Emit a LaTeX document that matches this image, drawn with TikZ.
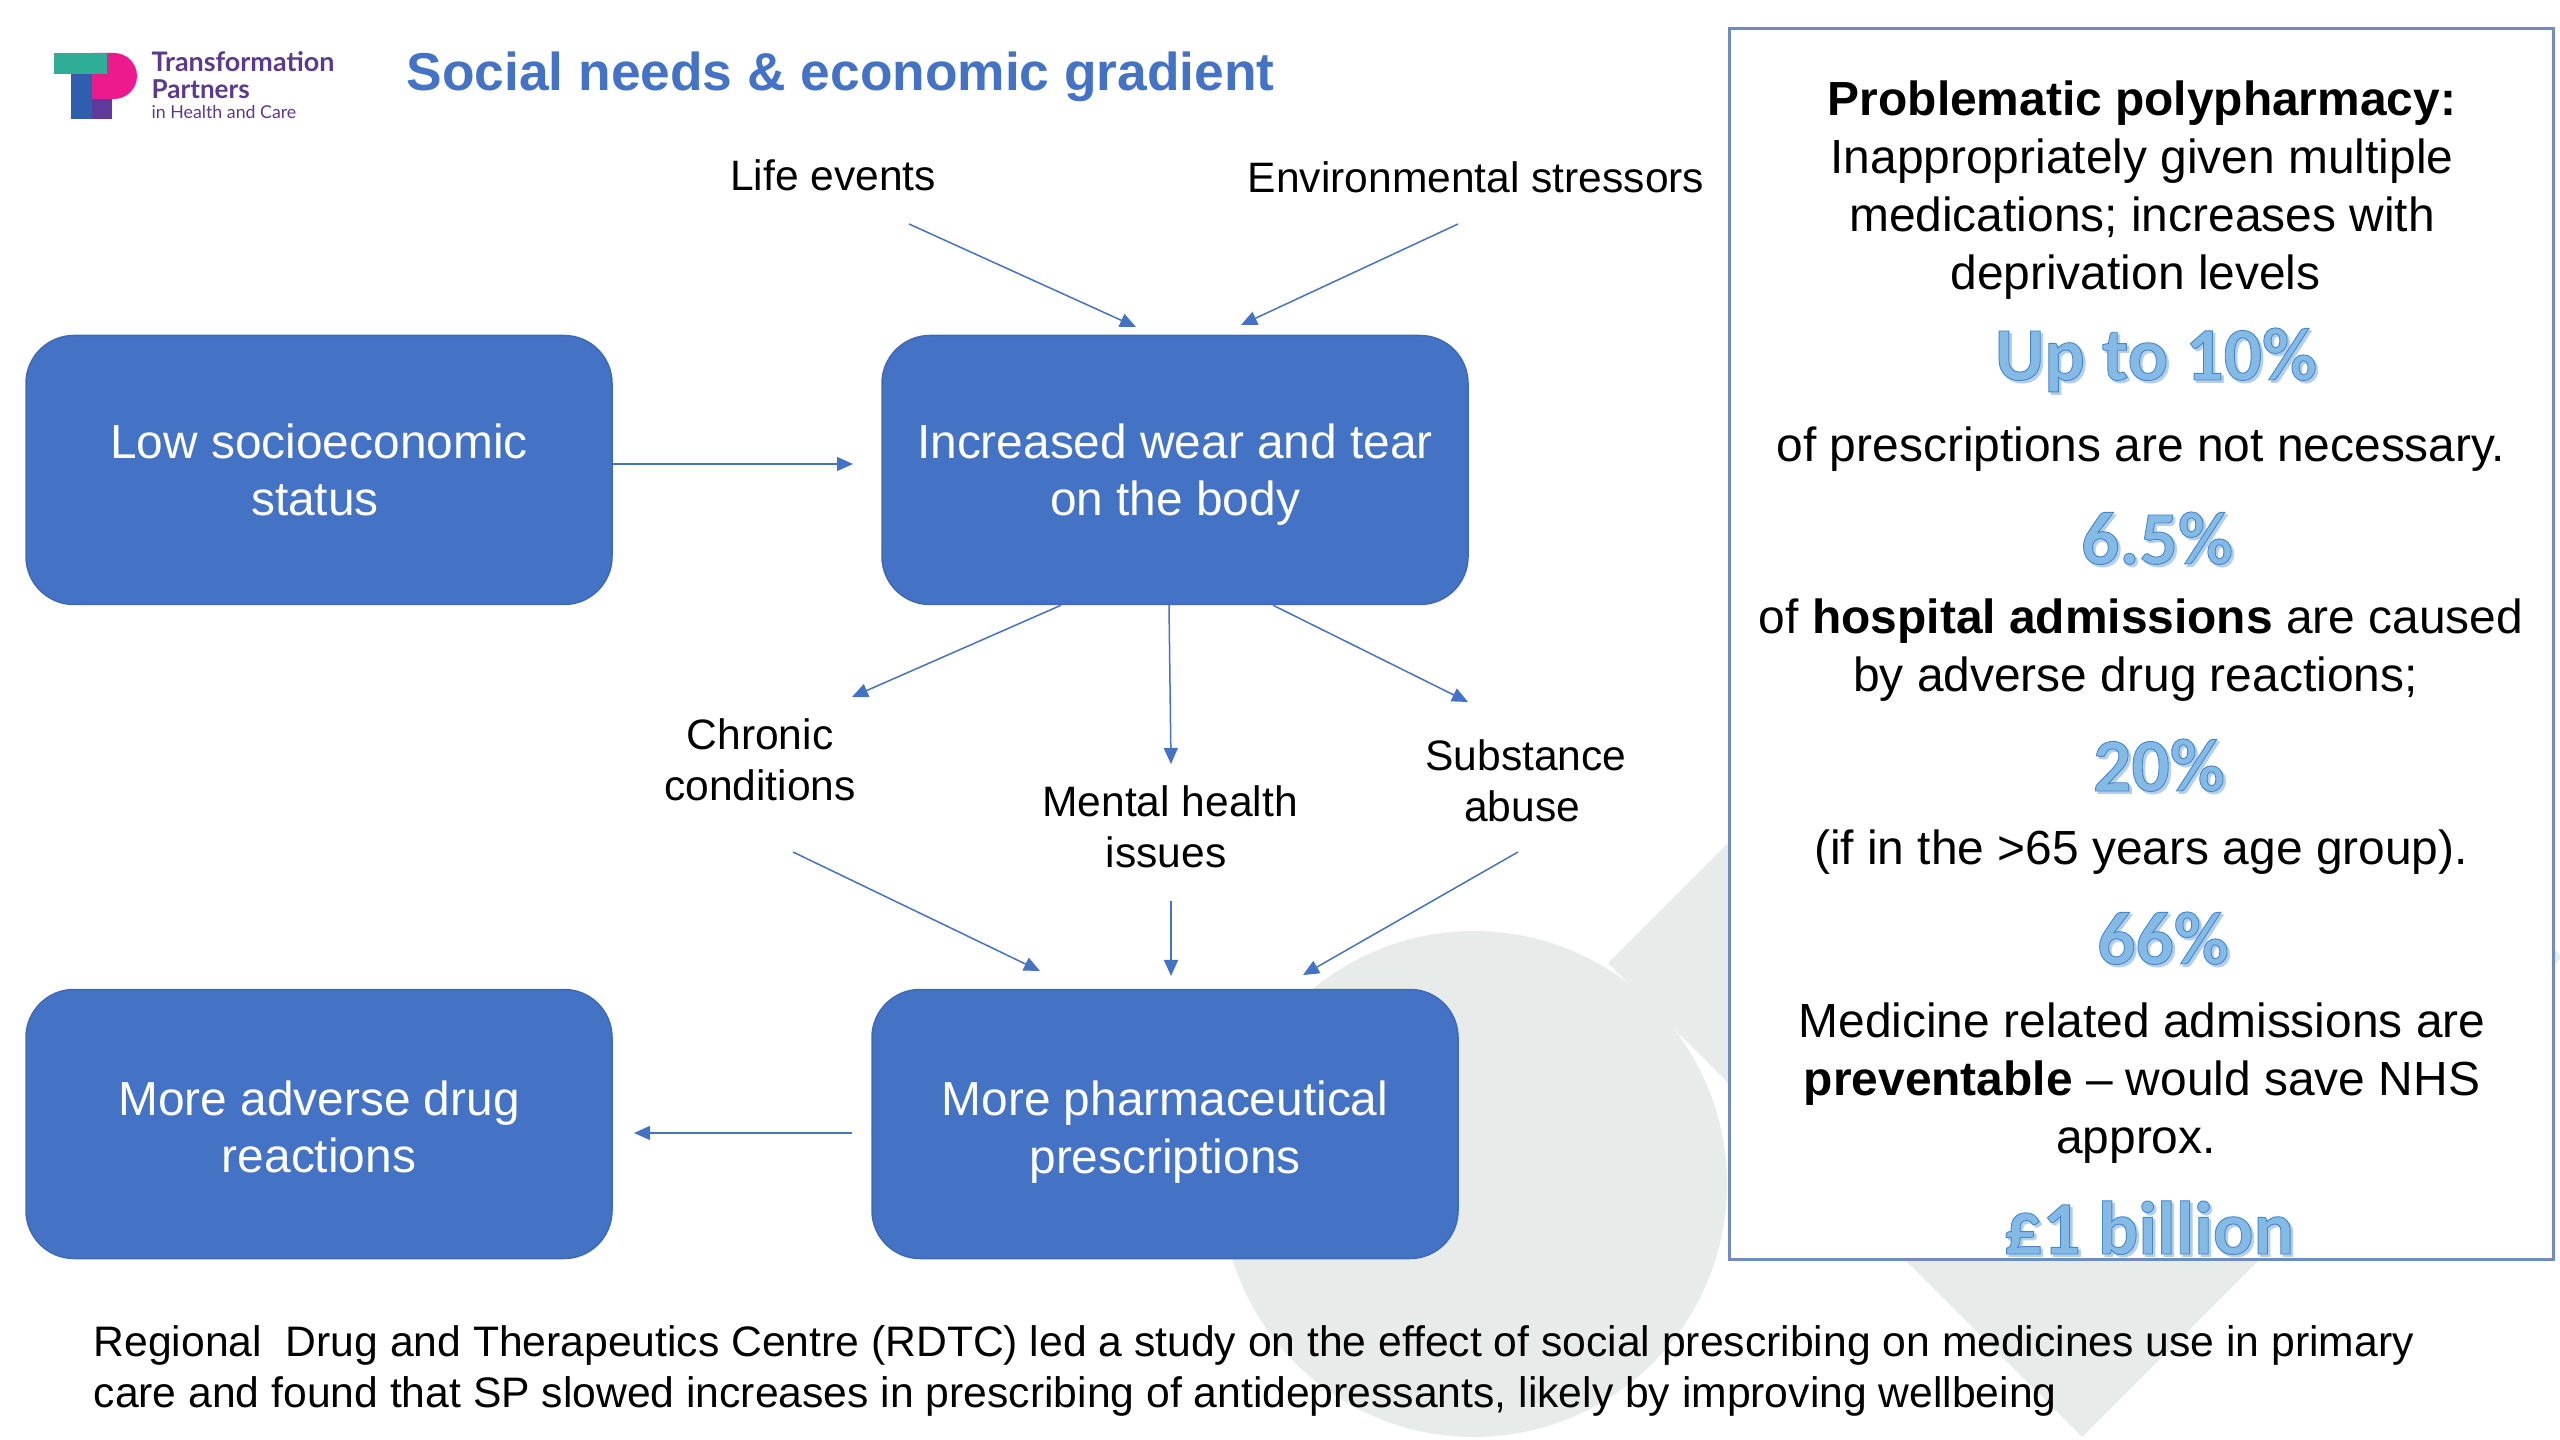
\documentclass[tikz,border=0pt]{standalone}
\usepackage{fontspec}
\setmainfont{Liberation Sans}
\newfontfamily\logof{Lato}
\newfontfamily\bigf[FakeBold=1.2]{Carlito Bold}
\usetikzlibrary{arrows.meta}
\definecolor{boxblue}{HTML}{4472C4}
\definecolor{boxedge}{HTML}{3F69B5}
\definecolor{frameblue}{HTML}{6F8AC4}
\definecolor{wmark}{HTML}{E7EBEA}
\definecolor{bigshadow}{HTML}{B5CFEA}
\definecolor{bigblue}{HTML}{5B9BD5}
\definecolor{logotxt}{HTML}{5B3A8E}
\definecolor{lteal}{HTML}{2FAE97}
\definecolor{lpink}{HTML}{EC1A8C}
\definecolor{lblue}{HTML}{2F5DB0}
\definecolor{lpurple}{HTML}{5F3A9C}
\newdimen\pxu \pxu=0.01cm
\newcommand{\bignum}[1]{{\bigf\fontsize{21.5}{26}\selectfont
  \rlap{\kern2.5\pxu\raisebox{-2.5\pxu}{\textcolor{bigshadow}{#1}}}%
  \textcolor{bigblue}{\special{pdf:code 0.27 0.53 0.80 RG 0.52 0.73 0.90 rg}#1}}}
\newcommand{\toppad}{\rule{0pt}{41\pxu}}
\tikzset{
  flowbox/.style={draw=boxedge,line width=1.5\pxu,fill=boxblue,rounded corners=48\pxu,text=white,
    minimum width=586\pxu,minimum height=269\pxu,align=center,inner sep=0pt,
    font=\fontsize{13.6}{16.3}\selectfont},
  lab/.style={align=center,inner sep=0pt,font=\fontsize{12.1}{14.5}\selectfont},
  side/.style={align=center,inner sep=0pt,font=\fontsize{13.62}{16.5}\selectfont},
  bigtxt/.style={inner sep=0pt,text height=50\pxu,text depth=14\pxu},
  flow/.style={draw=boxblue,line width=1.5\pxu,-{Triangle[length=0.16cm,width=0.14cm]}},
  logotext/.style={anchor=base west,inner sep=0pt,text=logotxt}
}
\begin{document}
\begin{tikzpicture}[x=0.01cm,y=-0.01cm]
\useasboundingbox (0,0) rectangle (2560,1440);
\clip (0,0) rectangle (2560,1440);
% watermark
\fill[wmark] (1474,1184) circle (253);
\fill[wmark] (1608,963) -- (2088,483) -- (2562,957) -- (2082,1437) -- cycle;
% logo
\fill[lpink] (92,53) -- (114,53) arc[start angle=-90,end angle=90,radius=23] -- (92,99) -- cycle;
\fill[lteal] (54,53) rectangle (107,74);
\fill[lblue] (71,74) rectangle (92,119);
\fill[lpurple] (92,99) rectangle (112,119);
\node[logotext,font=\logof\bfseries\fontsize{7.65}{8}\selectfont] (logoa) at (151,72) {Transformation};
\node[logotext,font=\logof\bfseries\fontsize{7.4}{8}\selectfont] (logob) at (151,99) {Partners};
\node[logotext,font=\logof\fontsize{5.05}{6}\selectfont] (logoc) at (151,119) {in Health and Care};
% title
\node[anchor=base west,inner sep=0pt,text=boxblue,font=\bfseries\fontsize{15.16}{18}\selectfont] (title) at (406,91) {Social needs \& economic gradient};
% right panel
\node[draw=frameblue,line width=3\pxu,fill=white,minimum width=824\pxu,minimum height=1230\pxu,inner sep=0pt] (panel) at (2141,644) {};
\node[side] (pa) at (2142,190) {\textbf{Problematic polypharmacy:}\\Inappropriately given multiple\\medications; increases with\\deprivation levels\kern13\pxu};
\node[bigtxt] (n1) at (2156,362) {\bignum{Up to 10\%}};
\node[side] (pb) at (2141,449) {of prescriptions are not necessary.};
\node[bigtxt] (n2) at (2157,546) {\bignum{6.5\%}};
\node[side] (pc) at (2141,650) {of \textbf{hospital admissions} are caused\\by adverse drug reactions;\kern11\pxu};
\node[bigtxt] (n3) at (2159,773) {\bignum{20\%}};
\node[side] (pd) at (2141,852) {(if in the >65 years age group).};
\node[bigtxt] (n4) at (2163,946) {\bignum{66\%}};
\node[side] (pe) at (2142,1083) {Medicine related admissions are\\\textbf{preventable} -- would save NHS\\approx.\kern12\pxu};
\node[bigtxt] (n5) at (2149,1236) {\bignum{£1 billion}};
% boxes
\node[flowbox] (low) at (319,470) {Low socioeconomic\\status\kern8\pxu};
\node[flowbox] (inc) at (1175,470) {Increased wear and tear\\\smash{on the body}};
\node[flowbox] (adv) at (319,1124) {\toppad More adverse drug\\reactions};
\node[flowbox] (pharm) at (1165,1124) {\toppad More pharmaceutical\\\smash{prescriptions}};
% labels
\node[lab] (life) at (833,175) {Life events};
\node[lab] (env) at (1476,177) {Environmental stressors};
\node[lab] (chronic) at (760,760) {Chronic\\conditions};
\node[lab] (mental) at (1170,827) {Mental health\\issues\kern8\pxu};
\node[lab] (subst) at (1526,781) {Substance\\abuse\kern8\pxu};
% bottom
\node[anchor=north west,align=left,inner sep=0pt,font=\fontsize{12.13}{14.5}\selectfont] (note) at (93,1325) {Regional\ \ Drug and Therapeutics Centre (RDTC) led a study on the effect of social prescribing on medicines use in primary\\care and found that SP slowed increases in prescribing of antidepressants, likely by improving wellbeing};
% arrow free ends
\coordinate (lifeout) at (909,224);
\coordinate (envout) at (1458,224);
\coordinate (incA) at (1136,327);
\coordinate (incB) at (1241,325);
\coordinate (incin) at (853,464);
\coordinate (chronicin) at (852,697);
\coordinate (mentalin) at (1171,764);
\coordinate (substin) at (1468,702);
\coordinate (chronicout) at (793,852);
\coordinate (mentalout) at (1171,901);
\coordinate (substout) at (1518,852);
\coordinate (pharmA) at (1040,971);
\coordinate (pharmB) at (1171,976);
\coordinate (pharmC) at (1303,975);
\coordinate (pharmout) at (852,1133);
\coordinate (advin) at (634,1133);
\draw[flow] (lifeout) -- (incA);
\draw[flow] (envout) -- (incB);
\draw[flow] ([yshift=6\pxu]low.east) -- (incin);
\draw[flow] ([xshift=-114\pxu]inc.south) -- (chronicin);
\draw[flow] ([xshift=-6\pxu]inc.south) -- (mentalin);
\draw[flow] ([xshift=98\pxu]inc.south) -- (substin);
\draw[flow] (chronicout) -- (pharmA);
\draw[flow] (mentalout) -- (pharmB);
\draw[flow] (substout) -- (pharmC);
\draw[flow] (pharmout) -- (advin);
\end{tikzpicture}
\end{document}
